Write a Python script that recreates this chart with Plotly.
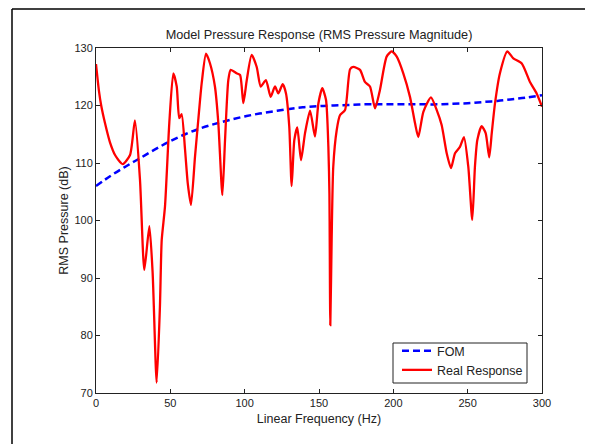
import plotly.graph_objects as go

# ---- data ----
fom_freq = [0, 10, 20, 30, 40, 50, 60, 70, 80, 90, 100, 110, 120, 130, 140, 150,
            160, 170, 180, 190, 200, 210, 220, 230, 240, 250, 260, 270, 280, 290, 300]
fom_db = [106.0, 107.8, 109.4, 110.9, 112.4, 113.8, 115.0, 116.0, 116.8, 117.5, 118.1,
          118.6, 119.0, 119.4, 119.7, 119.9, 120.0, 120.1, 120.2, 120.2, 120.2, 120.2,
          120.2, 120.2, 120.3, 120.4, 120.6, 120.8, 121.1, 121.4, 121.8]

real_freq = [0, 2, 3.5, 6, 9.4, 13, 18, 22.9, 26.2, 29.6, 32.5, 35.9, 38.1, 40.8, 43,
             44.2, 46.4, 49.3, 52, 54.3, 56, 57.6, 59.9, 61.7, 63.9, 66.6, 68.8, 71.1,
             74, 76.7, 80, 82.3, 85, 86.8, 89, 90.6, 94.6, 96.9, 99.1, 101.4, 104.7,
             108.1, 110.8, 114.3, 117.5, 120.4, 122.6, 125.6, 127.8, 130, 131.6, 133.4,
             135.4, 137.9, 140.6, 144, 147.3, 149.6, 152.2, 154.7, 156.3, 157, 157.6,
             158.5, 159.6, 161.9, 164.1, 167.5, 170.9, 173.1, 177.6, 180.9, 184.3,
             187.7, 191, 195.5, 198.9, 202.3, 206.7, 211.2, 214.6, 216.8, 220.2, 225.3,
             229.2, 232.5, 235.9, 238.8, 241.5, 244.8, 247.5, 250.4, 253.1, 254.9,
             256.5, 259.4, 262.1, 264.5, 266.2, 268.4, 271.7, 276.7, 280.7, 286.4,
             291.9, 296.4, 300]
real_db = [127.2, 122.5, 120.0, 117.0, 113.6, 111.3, 109.8, 111.4, 117.4, 107.0, 91.4,
           99.0, 90.9, 71.8, 85.0, 96.6, 102.4, 116.9, 125.6, 123.3, 117.8, 118.5,
           112.3, 106.5, 102.7, 111.1, 117.5, 123.9, 129.0, 127.3, 123.3, 116.9, 104.4,
           114.0, 124.4, 126.2, 125.6, 125.3, 120.4, 124.4, 128.8, 126.7, 123.3, 124.4,
           121.5, 123.3, 122.1, 123.7, 122.1, 116.3, 106.0, 114.0, 116.2, 110.5, 115.2,
           119.1, 114.6, 120.4, 123.0, 121.0, 112.8, 104.7, 81.8, 96.6, 109.4, 115.7,
           118.3, 119.2, 126.3, 126.7, 126.2, 124.1, 123.3, 119.5, 122.7, 128.5, 129.4,
           128.5, 125.6, 121.5, 116.9, 114.5, 118.9, 121.4, 119.2, 116.6, 111.7, 109.1,
           111.7, 112.8, 114.5, 109.4, 100.1, 109.4, 114.0, 116.4, 115.2, 111.0, 115.2,
           120.4, 125.6, 129.4, 128.2, 127.3, 124.1, 122.1, 119.8]

x_ticks = [0, 50, 100, 150, 200, 250, 300]
y_ticks = [70, 80, 90, 100, 110, 120, 130]

FONT = "Liberation Sans, Arial, sans-serif"
INK = "#222222"

# The page body has an 8px default margin, so the figure is sized 585x436
# to fill the 593x444 window.
W, H = 585, 436
ML, MR, MT, MB = 88, 51, 40, 51
PW, PH = W - ML - MR, H - MT - MB


def px2paper_x(px_win):
    return (px_win - 8 - ML) / PW


def px2paper_y(py_win):
    return (H - MB - (py_win - 8)) / PH


fig = go.Figure()
fig.add_trace(go.Scatter(x=fom_freq, y=fom_db, mode="lines", name="FOM",
                         line=dict(color="#0000FF", width=2.5, dash="7px,4px", shape="spline")))
fig.add_trace(go.Scatter(x=real_freq, y=real_db, mode="lines", name="Real Response",
                         line=dict(color="#FF0000", width=2.3, shape="spline", smoothing=0.6)))

axis_common = dict(showgrid=False, zeroline=False, showline=True, linecolor=INK,
                   linewidth=1, mirror="ticks", ticks="inside", ticklen=4,
                   tickcolor=INK, tickfont=dict(family=FONT, size=11, color=INK))

fig.update_xaxes(range=[0, 300], tickvals=x_ticks,
                 title=dict(text="Linear Frequency (Hz)", font=dict(family=FONT, size=12.5, color=INK),
                            standoff=6),
                 **axis_common)
fig.update_yaxes(range=[70, 130], tickvals=y_ticks,
                 title=dict(text="RMS Pressure (dB)", font=dict(family=FONT, size=12.5, color=INK),
                            standoff=3),
                 **axis_common)

fig.update_layout(
    width=W, height=H, autosize=False,
    margin=dict(l=ML, r=MR, t=MT, b=MB),
    paper_bgcolor="white", plot_bgcolor="white",
    title=dict(text="Model Pressure Response (RMS Pressure Magnitude)",
               font=dict(family=FONT, size=12.7, color=INK),
               x=0.5, xref="paper", y=1 - 27 / H, yref="container", yanchor="middle"),
    legend=dict(x=px2paper_x(397), y=px2paper_y(336), xanchor="left", yanchor="top",
                bgcolor="rgba(0,0,0,0)", borderwidth=0,
                font=dict(family=FONT, size=12.5, color=INK),
                tracegroupgap=0, itemwidth=30),
    showlegend=True,
    shapes=[
        # legend frame
        dict(type="rect", xref="paper", yref="paper", layer="above",
             x0=px2paper_x(393), x1=px2paper_x(527), y0=px2paper_y(383), y1=px2paper_y(343),
             fillcolor="white", line=dict(color=INK, width=1)),
        # figure frame (left and top edges)
        dict(type="line", xref="paper", yref="paper", x0=px2paper_x(12), x1=px2paper_x(12),
             y0=px2paper_y(460), y1=px2paper_y(9), line=dict(color="black", width=1.5)),
        dict(type="line", xref="paper", yref="paper", x0=px2paper_x(12), x1=px2paper_x(620),
             y0=px2paper_y(9), y1=px2paper_y(9), line=dict(color="black", width=1.5)),
    ],
)

fig.write_html("out.html")
